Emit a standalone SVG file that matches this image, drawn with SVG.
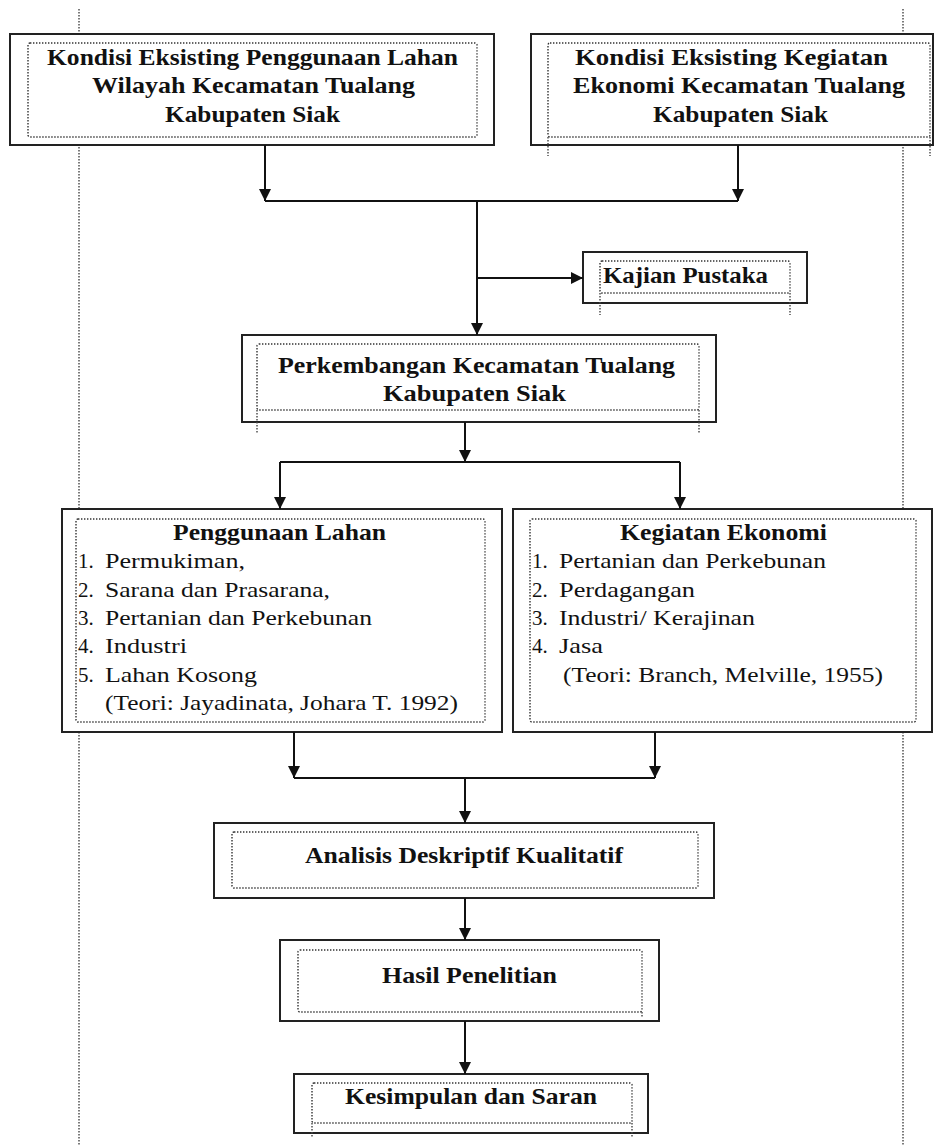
<svg xmlns="http://www.w3.org/2000/svg" width="934" height="1146" viewBox="0 0 934 1146">
<defs>
<style>
.outer{fill:#fff;stroke:#222;stroke-width:2}
.inner{fill:none;stroke:#333;stroke-width:1.4;stroke-dasharray:1.4 1.6}
.dot{fill:none;stroke:#444;stroke-width:1.4;stroke-dasharray:1.4 1.6}
.conn{fill:none;stroke:#111;stroke-width:2}
.tb{font-family:"Liberation Serif","Times New Roman",serif;font-weight:bold;font-size:23px;fill:#111}
.tr{font-family:"Liberation Serif","Times New Roman",serif;font-size:21px;fill:#111}
</style>
<marker id="arr" markerUnits="userSpaceOnUse" markerWidth="12" markerHeight="12" refX="10" refY="5" orient="auto" viewBox="0 0 10 10">
<path d="M0,0 L10,5 L0,10 z" fill="#111"/>
</marker>
</defs>
<rect width="934" height="1146" fill="#fff"/>
<g id="page-lines">
<line class="dot" x1="79" y1="9" x2="79" y2="1146"/>
<line class="dot" x1="903" y1="9" x2="903" y2="1146"/>
</g>
<g id="node-penggunaan-eksisting">
<rect class="outer" x="10" y="34" width="484" height="111"/>
<rect class="inner" x="28" y="43" width="449" height="94" rx="2"/>
<text class="tb" x="47" y="65" textLength="411" lengthAdjust="spacingAndGlyphs">Kondisi Eksisting Penggunaan Lahan</text>
<text class="tb" x="92" y="93" textLength="323" lengthAdjust="spacingAndGlyphs">Wilayah Kecamatan Tualang</text>
<text class="tb" x="165" y="122" textLength="175" lengthAdjust="spacingAndGlyphs">Kabupaten Siak</text>
</g>
<g id="node-ekonomi-eksisting">
<rect class="outer" x="531" y="34" width="402" height="111"/>
<rect class="inner" x="548" y="43" width="382" height="94" rx="2"/>
<line class="dot" x1="548" y1="137" x2="548" y2="156"/>
<line class="dot" x1="930" y1="137" x2="930" y2="156"/>
<text class="tb" x="575" y="65" textLength="313" lengthAdjust="spacingAndGlyphs">Kondisi Eksisting Kegiatan</text>
<text class="tb" x="573" y="93" textLength="332" lengthAdjust="spacingAndGlyphs">Ekonomi Kecamatan Tualang</text>
<text class="tb" x="653" y="122" textLength="175" lengthAdjust="spacingAndGlyphs">Kabupaten Siak</text>
</g>
<g id="node-kajian-pustaka">
<rect class="outer" x="583" y="252" width="224" height="51"/>
<rect class="inner" x="600" y="261" width="190" height="32" rx="2"/>
<line class="dot" x1="600" y1="293" x2="600" y2="315"/>
<line class="dot" x1="790" y1="293" x2="790" y2="315"/>
<text class="tb" x="603" y="283" textLength="165" lengthAdjust="spacingAndGlyphs">Kajian Pustaka</text>
</g>
<g id="node-perkembangan">
<rect class="outer" x="242" y="335" width="474" height="87"/>
<rect class="inner" x="257" y="344" width="442" height="66" rx="2"/>
<line class="dot" x1="257" y1="410" x2="257" y2="433"/>
<line class="dot" x1="699" y1="410" x2="699" y2="433"/>
<text class="tb" x="278" y="373" textLength="397" lengthAdjust="spacingAndGlyphs">Perkembangan Kecamatan Tualang</text>
<text class="tb" x="383" y="401" textLength="183" lengthAdjust="spacingAndGlyphs">Kabupaten Siak</text>
</g>
<g id="node-penggunaan-lahan">
<rect class="outer" x="62" y="509" width="440" height="223"/>
<rect class="inner" x="76" y="519" width="409" height="203" rx="2"/>
<text class="tb" x="173" y="540" textLength="213" lengthAdjust="spacingAndGlyphs">Penggunaan Lahan</text>
<text class="tr" x="78" y="568">1.</text>
<text class="tr" x="105" y="568" textLength="140" lengthAdjust="spacingAndGlyphs">Permukiman,</text>
<text class="tr" x="78" y="597">2.</text>
<text class="tr" x="105" y="597" textLength="225" lengthAdjust="spacingAndGlyphs">Sarana dan Prasarana,</text>
<text class="tr" x="78" y="625">3.</text>
<text class="tr" x="105" y="625" textLength="267" lengthAdjust="spacingAndGlyphs">Pertanian dan Perkebunan</text>
<text class="tr" x="78" y="653">4.</text>
<text class="tr" x="105" y="653" textLength="82" lengthAdjust="spacingAndGlyphs">Industri</text>
<text class="tr" x="78" y="682">5.</text>
<text class="tr" x="105" y="682" textLength="152" lengthAdjust="spacingAndGlyphs">Lahan Kosong</text>
<text class="tr" x="105" y="710" textLength="353" lengthAdjust="spacingAndGlyphs">(Teori: Jayadinata, Johara T. 1992)</text>
</g>
<g id="node-kegiatan-ekonomi">
<rect class="outer" x="513" y="509" width="419" height="223"/>
<rect class="inner" x="530" y="519" width="386" height="203" rx="2"/>
<text class="tb" x="620" y="540" textLength="207" lengthAdjust="spacingAndGlyphs">Kegiatan Ekonomi</text>
<text class="tr" x="532" y="568">1.</text>
<text class="tr" x="559" y="568" textLength="267" lengthAdjust="spacingAndGlyphs">Pertanian dan Perkebunan</text>
<text class="tr" x="532" y="597">2.</text>
<text class="tr" x="559" y="597" textLength="136" lengthAdjust="spacingAndGlyphs">Perdagangan</text>
<text class="tr" x="532" y="625">3.</text>
<text class="tr" x="559" y="625" textLength="196" lengthAdjust="spacingAndGlyphs">Industri/ Kerajinan</text>
<text class="tr" x="532" y="653">4.</text>
<text class="tr" x="559" y="653" textLength="44" lengthAdjust="spacingAndGlyphs">Jasa</text>
<text class="tr" x="563" y="682" textLength="320" lengthAdjust="spacingAndGlyphs">(Teori: Branch, Melville, 1955)</text>
</g>
<g id="node-analisis">
<rect class="outer" x="214" y="823" width="500" height="75"/>
<rect class="inner" x="232" y="832" width="466" height="56" rx="2"/>
<text class="tb" x="305" y="863" textLength="318" lengthAdjust="spacingAndGlyphs">Analisis Deskriptif Kualitatif</text>
</g>
<g id="node-hasil">
<rect class="outer" x="280" y="940" width="379" height="81"/>
<rect class="inner" x="298" y="950" width="344" height="62" rx="2"/>
<line class="dot" x1="642" y1="1012" x2="642" y2="1017"/>
<text class="tb" x="382" y="983" textLength="175" lengthAdjust="spacingAndGlyphs">Hasil Penelitian</text>
</g>
<g id="node-kesimpulan">
<rect class="outer" x="294" y="1074" width="354" height="59"/>
<rect class="inner" x="312" y="1083" width="320" height="40" rx="2"/>
<line class="dot" x1="312" y1="1123" x2="312" y2="1137"/>
<line class="dot" x1="632" y1="1123" x2="632" y2="1137"/>
<text class="tb" x="345" y="1104" textLength="252" lengthAdjust="spacingAndGlyphs">Kesimpulan dan Saran</text>
</g>
<g id="connectors">
<path class="conn" d="M265,145 V201" marker-end="url(#arr)"/>
<path class="conn" d="M738,145 V201" marker-end="url(#arr)"/>
<path class="conn" d="M265,201 H738"/>
<path class="conn" d="M477,201 V335" marker-end="url(#arr)"/>
<path class="conn" d="M477,278 H583" marker-end="url(#arr)"/>
<path class="conn" d="M465,422 V462" marker-end="url(#arr)"/>
<path class="conn" d="M280,462 H680"/>
<path class="conn" d="M280,462 V509" marker-end="url(#arr)"/>
<path class="conn" d="M680,462 V509" marker-end="url(#arr)"/>
<path class="conn" d="M294,732 V778" marker-end="url(#arr)"/>
<path class="conn" d="M655,732 V778" marker-end="url(#arr)"/>
<path class="conn" d="M294,778 H655"/>
<path class="conn" d="M465,778 V823" marker-end="url(#arr)"/>
<path class="conn" d="M465,898 V940" marker-end="url(#arr)"/>
<path class="conn" d="M465,1021 V1074" marker-end="url(#arr)"/>
</g>
</svg>
